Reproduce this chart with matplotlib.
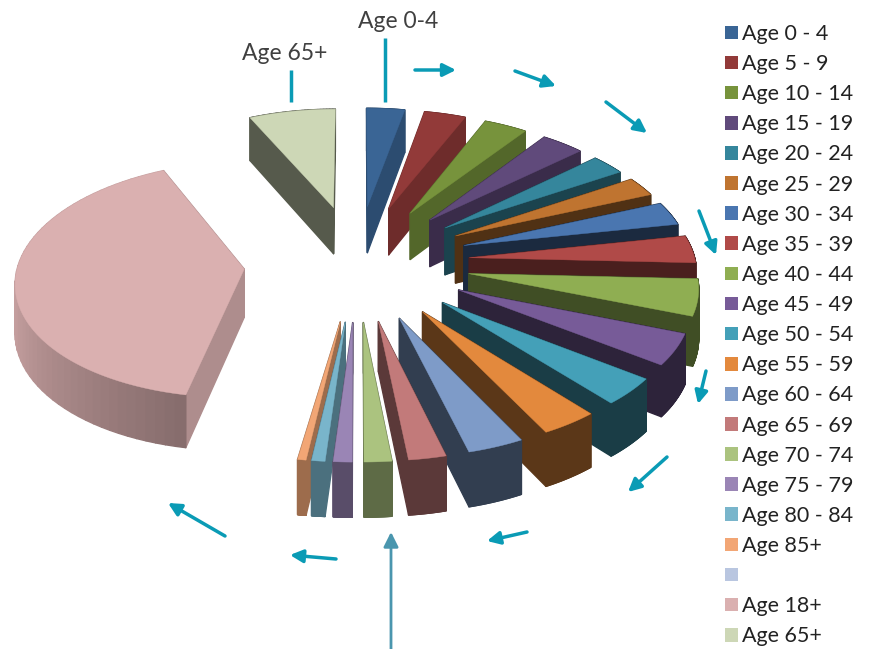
import numpy as np
import matplotlib
matplotlib.use('Agg')
import matplotlib.pyplot as plt
import matplotlib.patches as patches
from matplotlib.colors import to_rgb

labels = ['Age 0 - 4', 'Age 5 - 9', 'Age 10 - 14', 'Age 15 - 19', 'Age 20 - 24', 'Age 25 - 29',
          'Age 30 - 34', 'Age 35 - 39', 'Age 40 - 44', 'Age 45 - 49', 'Age 50 - 54', 'Age 55 - 59',
          'Age 60 - 64', 'Age 65 - 69', 'Age 70 - 74', 'Age 75 - 79', 'Age 80 - 84', 'Age 85+',
          '', 'Age 18+', 'Age 65+']
# slice sizes
values = [11.0, 12.0, 12.5, 12.5, 10.0, 9.5, 11.5, 13.5, 18.0, 15.5, 13.5, 13.0,
          12.8, 8.5, 6.2, 4.2, 3.0, 1.9, 2.0, 143.9, 25.0]
colors = ['#3A6595', '#923A39', '#77933C', '#604A7B', '#35869C', '#BF7430',
          '#4A76B0', '#B04A48', '#8FAE52', '#775B98', '#44A0B8', '#E3893D',
          '#7E9BC8', '#C27A7A', '#ABC37F', '#9A85B5', '#79B5CB', '#F2A675',
          '#B9C6E0', '#DAB0B0', '#CDD7B6']
side_shade = [0.75, 0.75, 0.7, 0.6, 0.5, 0.42, 0.36, 0.42, 0.45, 0.38, 0.38, 0.4,
              0.4, 0.47, 0.55, 0.58, 0.62, 0.65, 0.7, 0.8, 0.42]

# pie projection
x0, y0 = 357, 262
rx, ry = 226, 116
k = 0.087
explode = 0.5
depth = 48


def project(u, v, drop=False):
    s = 1 + k * v
    x = x0 + rx * u / s
    y = y0 - ry * v / s
    if drop:
        y = y + depth / s
    return x, y


def shade(col, f):
    return tuple(c * f for c in to_rgb(col))


fig = plt.figure(figsize=(8.7, 6.49), dpi=100)
ax = fig.add_axes([0, 0, 1, 1])
ax.set_xlim(0, 870)
ax.set_ylim(649, 0)
ax.axis('off')

angles = 360 * np.array(values) / sum(values)
starts = np.concatenate([[0], np.cumsum(angles)[:-1]])

# far slices first
order = np.argsort(-np.cos(np.radians(starts + angles / 2)))
for i in order:
    if labels[i] == '':
        continue
    mid = np.radians(starts[i] + angles[i] / 2)
    ax_u, ax_v = explode * np.sin(mid), explode * np.cos(mid)
    th = np.radians(np.linspace(starts[i], starts[i] + angles[i], 60))
    arc_u = ax_u + np.sin(th)
    arc_v = ax_v + np.cos(th)

    faces = []
    dark = shade(colors[i], side_shade[i])
    for j in [0, -1]:
        uu = [ax_u, arc_u[j]]
        vv = [ax_v, arc_v[j]]
        top = [project(a, b) for a, b in zip(uu, vv)]
        bot = [project(a, b, True) for a, b in zip(uu, vv)]
        faces.append((np.mean(vv), top + bot[::-1], dark))
    for j in range(len(th) - 1):
        uu = arc_u[j:j + 2]
        vv = arc_v[j:j + 2]
        top = [project(a, b) for a, b in zip(uu, vv)]
        bot = [project(a, b, True) for a, b in zip(uu, vv)]
        col = dark
        if labels[i] == 'Age 18+':
            # rim fades towards the front corner
            t = j / (len(th) - 2)
            col = shade(colors[i], 0.62 + 0.28 * min(t / 0.45, 1))
        faces.append((np.mean(vv), top + bot[::-1], col))
    faces.sort(key=lambda f: -f[0])
    for _, pts, col in faces:
        ax.add_patch(patches.Polygon(pts, closed=True, fc=col, ec=col, lw=1.0, joinstyle='round'))
    top_pts = [project(ax_u, ax_v)] + [project(a, b) for a, b in zip(arc_u, arc_v)]
    ax.add_patch(patches.Polygon(top_pts, closed=True, fc=colors[i], ec=colors[i], lw=0.3))

# callout lines and arrows
teal = '#0A9BB5'
ax.plot([385.5, 385.5], [38, 102], color=teal, lw=2.5, solid_capstyle='butt')
ax.plot([291, 291], [70, 102], color=teal, lw=2.5, solid_capstyle='butt')
ax.text(398, 21, 'Age 0-4', ha='center', va='center', fontsize=16.5, family='Lato', color='#404040')
ax.text(285, 53, 'Age 65+', ha='center', va='center', fontsize=16.5, family='Lato', color='#404040')

arrows = [((415, 70), (456, 70)), ((515, 71), (556, 86)), ((606, 102), (647, 133)),
          ((699, 211), (716, 255)), ((706, 371), (698, 404)), ((667, 457), (628, 492)),
          ((527, 532), (487, 541)), ((336, 559), (290, 555)), ((225, 536), (168, 503))]
for a, b in arrows:
    ax.annotate('', xy=b, xytext=a,
                arrowprops=dict(arrowstyle='-|>', color=teal, lw=2.5, mutation_scale=19,
                                shrinkA=0, shrinkB=0))
ax.annotate('', xy=(391, 532), xytext=(391, 649),
            arrowprops=dict(arrowstyle='-|>', color='#4A96AE', lw=2, mutation_scale=22,
                            shrinkA=0, shrinkB=0))

handles = [patches.Patch(fc=c, ec='none') for c in colors]
ax.legend(handles, labels, loc='upper left', bbox_to_anchor=(725, 24), bbox_transform=ax.transData,
          frameon=False, prop=dict(family='Lato', size=15.5), borderpad=0, borderaxespad=0,
          handlelength=0.6, handleheight=0.6, handletextpad=0.2, labelspacing=0.47,
          labelcolor='#222222')

plt.savefig('out.png', dpi=100)
